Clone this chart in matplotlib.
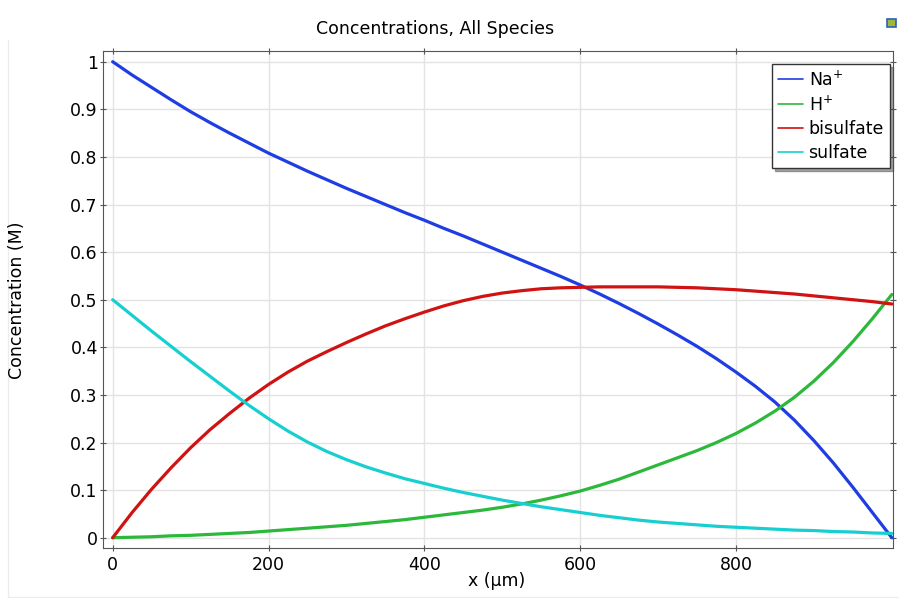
import matplotlib
matplotlib.use("Agg")
import matplotlib.pyplot as plt
from matplotlib.lines import Line2D
from matplotlib.patches import Rectangle

# x positions (um)
x_um = [0, 25, 50, 75, 100, 125, 150, 175, 200, 225, 250, 275, 300, 325, 350, 375, 400,
        425, 450, 475, 500, 525, 550, 575, 600, 625, 650, 675, 700, 725, 750, 775, 800,
        825, 850, 875, 900, 925, 950, 975, 1000]

# concentrations (M)
na_plus = [1.000, 0.972, 0.946, 0.920, 0.895, 0.872, 0.850, 0.829, 0.808, 0.789, 0.770,
           0.752, 0.734, 0.717, 0.700, 0.683, 0.667, 0.650, 0.634, 0.617, 0.600, 0.583,
           0.566, 0.549, 0.531, 0.512, 0.492, 0.471, 0.449, 0.426, 0.402, 0.376, 0.348,
           0.318, 0.285, 0.247, 0.204, 0.157, 0.106, 0.053, 0.000]
h_plus = [0.000, 0.001, 0.002, 0.004, 0.005, 0.007, 0.009, 0.011, 0.014, 0.017, 0.020,
          0.023, 0.026, 0.030, 0.034, 0.038, 0.043, 0.048, 0.053, 0.058, 0.064, 0.071,
          0.079, 0.088, 0.098, 0.110, 0.123, 0.138, 0.153, 0.168, 0.183, 0.200, 0.219,
          0.241, 0.266, 0.295, 0.329, 0.368, 0.412, 0.460, 0.511]
bisulfate = [0.000, 0.053, 0.102, 0.147, 0.189, 0.227, 0.261, 0.293, 0.322, 0.348, 0.371,
             0.391, 0.410, 0.428, 0.445, 0.460, 0.474, 0.487, 0.498, 0.507, 0.514, 0.519,
             0.523, 0.525, 0.526, 0.527, 0.527, 0.527, 0.527, 0.526, 0.525, 0.523, 0.521,
             0.518, 0.515, 0.512, 0.508, 0.504, 0.500, 0.496, 0.491]
sulfate = [0.500, 0.467, 0.434, 0.402, 0.370, 0.339, 0.308, 0.278, 0.250, 0.224, 0.201,
           0.181, 0.164, 0.149, 0.136, 0.124, 0.114, 0.104, 0.095, 0.087, 0.079, 0.072,
           0.065, 0.059, 0.053, 0.047, 0.042, 0.037, 0.033, 0.030, 0.027, 0.024, 0.022,
           0.020, 0.018, 0.016, 0.015, 0.013, 0.012, 0.010, 0.009]

labels = ["Na$^{+}$", "H$^{+}$", "bisulfate", "sulfate"]
colors = ["#1e3de2", "#2cb83a", "#d01212", "#17cfd0"]
y_ticks = [0, 0.1, 0.2, 0.3, 0.4, 0.5, 0.6, 0.7, 0.8, 0.9, 1]
y_ticklabels = ["0", "0.1", "0.2", "0.3", "0.4", "0.5", "0.6", "0.7", "0.8", "0.9", "1"]
x_ticks = [0, 200, 400, 600, 800]

plt.rcParams['font.family'] = ['DejaVu Sans']
plt.rcParams['font.size'] = 12.5

W, H = 899, 598
fig = plt.figure(figsize=(W / 100, H / 100), dpi=100)
ax = fig.add_axes([102.7 / W, 1 - 548 / H, (892.6 - 102.7) / W, (548 - 51) / H])

for ys, lab, c in zip([na_plus, h_plus, bisulfate, sulfate], labels, colors):
    ax.plot(x_um, ys, color=c, lw=2.3, label=lab, solid_capstyle='round',
            solid_joinstyle='round')

ax.set_xlim(-12.8, 1001)
ax.set_ylim(-0.0216, 1.0225)
ax.set_xticks(x_ticks)
ax.set_yticks(y_ticks)
ax.set_yticklabels(y_ticklabels)
ax.grid(True, color="#e3e3e3", lw=1)
ax.set_axisbelow(True)

for s in ax.spines.values():
    s.set_color("#555555")
ax.tick_params(direction='inout', length=5, color="#555555", top=True, right=True,
               labeltop=False, labelright=False)
ax.tick_params(axis='y', pad=1)
ax.tick_params(axis='x', pad=3)

# labels placed in figure pixels
fig.text(435 / W, 1 - 29 / H, "Concentrations, All Species", ha='center', va='center')
fig.text(497 / W, 1 - 581 / H, "x (µm)", ha='center', va='center')
fig.text(17 / W, 1 - 300 / H, "Concentration (M)", ha='center', va='center', rotation=90)

leg = ax.legend(loc='upper right', bbox_to_anchor=(0.9967, 0.974), fancybox=False,
                shadow=True, framealpha=1, edgecolor="#333333", handlelength=1.45,
                handletextpad=0.3, borderpad=0.35, labelspacing=0.33, borderaxespad=0)
for line in leg.get_lines():
    line.set_linewidth(1.2)

# faint panel frame and window icon from the screenshot
fig.add_artist(Line2D([8 / W, 8 / W], [0, 1 - 40 / H], transform=fig.transFigure,
                      color="#ececec", lw=1))
fig.add_artist(Line2D([8 / W, 1], [1 - 597 / H, 1 - 597 / H], transform=fig.transFigure,
                      color="#ececec", lw=1))
fig.add_artist(Rectangle((887 / W, 1 - 27 / H), 9 / W, 8 / H, transform=fig.transFigure,
                         facecolor="#9fb83a", edgecolor="#2d5fc0", lw=1.2))

fig.savefig("out.png", dpi=100)
